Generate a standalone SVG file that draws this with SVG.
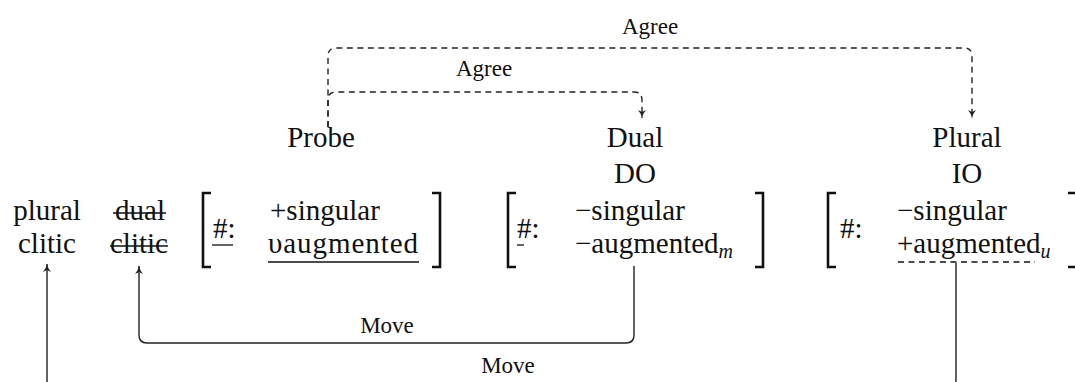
<svg xmlns="http://www.w3.org/2000/svg" width="1075" height="382" viewBox="0 0 1075 382" font-family="'Liberation Serif', 'Times New Roman', serif">
<style>
text{font-family:"Liberation Serif","Times New Roman",serif;fill:#111;}
.m{font-size:29px;}
.lab{font-size:23px;text-anchor:middle;}
.c{text-anchor:middle;}
.sub{font-size:20px;font-style:italic;}
.br{fill:none;stroke:#111;stroke-width:2.6;}
.ul{fill:none;stroke:#111;stroke-width:1.3;}
.dash{stroke-dasharray:6 4.5;}
.conn{fill:none;stroke:#222;stroke-width:1.4;}
</style>
<defs>
<marker id="ah" markerUnits="userSpaceOnUse" markerWidth="10" markerHeight="9" refX="8" refY="4.5" orient="auto">
<path d="M0,0.5 Q3.5,3.8 8.5,4.5 Q3.5,5.2 0,8.5 L2,4.5 z" fill="#222"/>
</marker>
</defs>
<g id="connectors">
<path class="conn dash" d="M328,127 V56 Q328,48 336,48 H964 Q972,48 972,56 V118" marker-end="url(#ah)"/>
<path class="conn dash" d="M328,127 V100 Q328,92 336,92 H634 Q642,92 642,100 V118" marker-end="url(#ah)"/>
<text class="lab" x="650" y="34">Agree</text>
<text class="lab" x="484" y="76">Agree</text>
<path class="conn" d="M634,266 V335 Q634,343 626,343 H147 Q139,343 139,335 V266" marker-end="url(#ah)"/>
<text class="lab" x="387" y="333">Move</text>
<path class="conn" d="M956,263 V380 Q956,388 948,388 H55 Q47,388 47,380 V264" marker-end="url(#ah)"/>
<text class="lab" x="508" y="373">Move</text>
</g>
<g id="probe"><text class="m c" x="321" y="147">Probe</text></g>
<g id="dual-do"><text class="m c" x="635" y="147">Dual</text><text class="m c" x="635" y="183">DO</text></g>
<g id="plural-io"><text class="m c" x="967" y="147">Plural</text><text class="m c" x="967" y="183">IO</text></g>
<g id="plural-clitic"><text class="m c" x="47" y="220">plural</text><text class="m c" x="47" y="253">clitic</text></g>
<g id="dual-clitic">
<text class="m c" x="140" y="220">dual</text><text class="m c" x="139" y="253">clitic</text>
<line class="ul" x1="113" y1="213" x2="166" y2="213"/>
<line class="ul" x1="110" y1="246" x2="168" y2="246"/>
</g>
<g id="features-probe">
<path class="br" d="M211,193 H203 V267 H211"/>
<path class="br" d="M432,193 H440 V267 H432"/>
<text class="m" x="213" y="238">#:</text>
<line class="ul" x1="212" y1="245" x2="233" y2="245"/>
<text class="m" x="270" y="220">+singular</text>
<text class="m" x="268" y="253" textLength="150">υaugmented</text>
<line class="ul" x1="268" y1="262" x2="419" y2="262"/>
</g>
<g id="features-do">
<path class="br" d="M516,193 H508 V267 H516"/>
<path class="br" d="M755,193 H763 V267 H755"/>
<text class="m" x="517" y="238">#:</text>
<line class="ul" x1="517" y1="245" x2="524" y2="245"/>
<text class="m" x="575" y="220">−singular</text>
<text class="m" x="575" y="253">−augmented<tspan class="sub" dy="5">m</tspan></text>
</g>
<g id="features-io">
<path class="br" d="M836,193 H828 V267 H836"/>
<path class="br" d="M1068,193 H1076.5 V267 H1068"/>
<text class="m" x="840" y="238">#:</text>
<text class="m" x="897" y="220">−singular</text>
<text class="m" x="897" y="253">+augmented<tspan class="sub" dy="5">u</tspan></text>
<line class="ul dash" x1="898" y1="262" x2="1035" y2="262"/>
</g>
</svg>
